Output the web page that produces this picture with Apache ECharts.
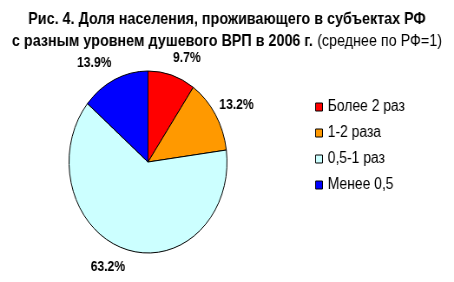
<!DOCTYPE html>
<html>
<head>
<meta charset="utf-8">
<script src="https://cdn.jsdelivr.net/npm/echarts@6/dist/echarts.min.js"></script>
<style>
html,body{margin:0;padding:0;background:#fff;overflow:hidden;}
#wrap{width:523px;height:282px;transform:scaleX(0.8681);transform-origin:0 0;}
</style>
</head>
<body>
<div id="wrap"></div>
<script>
const titleLine1 = 'Рис. 4. Доля населения, проживающего в субъектах РФ';
const titleLine2a = 'с разным уровнем душевого ВРП в 2006 г.';
const titleLine2b = '(среднее по РФ=1)';
const categories = ['Более 2 раз', '1-2 раза', '0,5-1 раз', 'Менее 0,5'];
const values = [9.7, 13.2, 63.2, 13.9];
const colors = ['#FF0000', '#FF9900', '#CCFFFF', '#0000FF'];
const labelPull = [-9, -16, -9, -9];

const chart = echarts.init(document.getElementById('wrap'), null, {renderer: 'canvas'});
const font = '"Liberation Sans", Arial, sans-serif';
chart.setOption({
  backgroundColor: '#fff',
  animation: false,
  title: {
    left: 'center',
    top: 3,
    text: '{b|' + titleLine1 + '}\n{b|' + titleLine2a + '} {n|' + titleLine2b + '}',
    textStyle: {
      fontFamily: font,
      rich: {
        b: {fontFamily: font, fontSize: 16.5, fontWeight: 'bold', color: '#000', lineHeight: 22},
        n: {fontFamily: font, fontSize: 16.5, fontWeight: 'normal', color: '#000', lineHeight: 22}
      }
    }
  },
  legend: {
    orient: 'vertical',
    left: 358,
    top: 94,
    itemWidth: 8,
    itemHeight: 8,
    itemGap: 10,
    icon: 'rect',
    data: categories,
    textStyle: {fontFamily: font, fontSize: 16, color: '#000', padding: [0, 0, 0, 1]},
    itemStyle: {borderColor: '#000', borderWidth: 1}
  },
  series: [{
    type: 'pie',
    center: [170.5, 162],
    radius: 91,
    startAngle: 90,
    clockwise: true,
    data: categories.map((c, i) => ({
      name: c, value: values[i],
      itemStyle: {color: colors[i]},
      labelLine: {show: false, length: 18, length2: labelPull[i]}
    })),
    itemStyle: {borderColor: '#000', borderWidth: 1},
    label: {
      show: true,
      position: 'outside',
      formatter: p => values[p.dataIndex].toFixed(1) + '%',
      fontFamily: font,
      fontSize: 14,
      fontWeight: 'bold',
      color: '#000'
    },
    labelLine: {show: false, length: 18, length2: -9},
    emphasis: {disabled: true}
  }]
});
</script>
</body>
</html>
